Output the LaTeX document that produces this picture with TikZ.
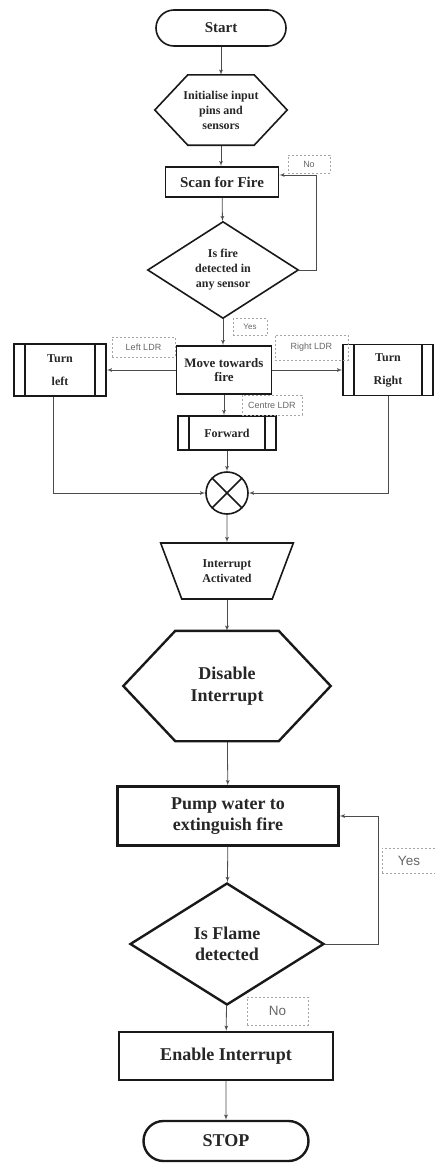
\documentclass[tikz,border=0pt]{standalone}
\usepackage{fontspec}
\setmainfont{Liberation Serif}
\newfontfamily\tagfont{Liberation Sans}
\usetikzlibrary{arrows}
\usetikzlibrary{shapes.geometric}
\usetikzlibrary{shapes.misc}
\newcommand{\hexframe}[3]{\draw[#3] (#1.west) -- ([xshift=#2]#1.north west) -- ([xshift=-#2]#1.north east) -- (#1.east) -- ([xshift=-#2]#1.south east) -- ([xshift=#2]#1.south west) -- cycle;}

\begin{document}
\begin{tikzpicture}[x=1pt, y=1pt,
    box/.style={draw=black!90, text=black!85, align=center, inner sep=0pt},
    thinbox/.style={box, line width=1.6pt},
    fatbox/.style={box, line width=2.4pt},
    midtext/.style={font=\bfseries\fontsize{12}{15}\selectfont},
    toptext/.style={font=\bfseries\fontsize{15}{18}\selectfont},
    bigtext/.style={font=\bfseries\fontsize{18}{21}\selectfont},
    terminal/.style={rounded rectangle},
    process/.style={rectangle},
    predef/.style={rectangle, path picture={
        \draw[line width=1.4pt] ([xshift=11pt]path picture bounding box.north west) -- ([xshift=11pt]path picture bounding box.south west);
        \draw[line width=1.4pt] ([xshift=-11pt]path picture bounding box.north east) -- ([xshift=-11pt]path picture bounding box.south east);}},
    decision/.style={diamond, shape aspect=1.55},
    hexagon/.style={box, draw=none},
    manop/.style={trapezium, shape border rotate=180, trapezium left angle=63.4, trapezium right angle=63.4, trapezium stretches=true},
    junction/.style={circle, draw=black!90, line width=1.6pt, minimum size=42pt, inner sep=0pt, path picture={
        \draw[line width=1.6pt] (path picture bounding box.north west) -- (path picture bounding box.south east);
        \draw[line width=1.6pt] (path picture bounding box.north east) -- (path picture bounding box.south west);}},
    tag/.style={draw=black!35, dash pattern=on 2pt off 2pt, text=black!60, inner sep=0pt, font=\tagfont\fontsize{9}{10}\selectfont},
    bigtag/.style={tag, font=\tagfont\fontsize{13.5}{15}\selectfont},
    arrow/.style={line width=0.8pt, draw=black!70, >=latex'},
    pre/.style={arrow, <-},
    post/.style={arrow, ->}
  ]
  \path[use as bounding box] (0,0) rectangle (435,-1165);

  \node[terminal, thinbox, toptext, minimum width=130pt, minimum height=36pt] (start) at (221,-28) {Start};
  \node[hexagon, midtext, minimum width=132pt, minimum height=70pt] (init) at (221,-110) {Initialise input\\pins and\\sensors}
    edge [pre] (start);
  \node[process, thinbox, toptext, minimum width=113pt, minimum height=30pt] (scan) at (222,-182) {Scan for Fire};
  \draw[post] (init.south) -- (init.south |- scan.north);
  \node[decision, thinbox, midtext, minimum width=151pt, minimum height=97pt] (fire) at (223,-270) {Is fire\\detected in\\any sensor}
    edge [pre] (scan);
  \node[process, thinbox, font=\bfseries\fontsize{13}{14}\selectfont, minimum width=95pt, minimum height=48pt] (move) at (224,-370) {Move towards\\fire};
  \draw[post] (fire.south) -- (fire.south |- move.north);
  \draw[post] (fire.east) -- +(17,0) |- ([yshift=7pt]scan.east);

  \node[predef, thinbox, midtext, minimum width=92pt, minimum height=52pt] (left) at (60,-370) {Turn\\[8pt]left}
    edge [pre] (move);
  \node[predef, thinbox, midtext, minimum width=90pt, minimum height=51pt] (right) at (388,-370) {Turn\\[8pt]Right}
    edge [pre] (move);
  \node[predef, thinbox, midtext, minimum width=98pt, minimum height=34pt] (fwd) at (227,-433) {Forward};
  \draw[post] (move.south) -- (move.south |- fwd.north);
  \node[junction] (sum) at (227,-493) {}
    edge [pre] (fwd);
  \draw[post] ([xshift=-7pt]left.south) |- (sum.west);
  \draw[post] (right.south) |- (sum.east);

  \node[manop, thinbox, midtext, minimum width=133pt, minimum height=56pt] (intr) at (227,-571) {Interrupt\\Activated}
    edge [pre] (sum);
  \node[hexagon, bigtext, font=\bfseries\fontsize{18}{22}\selectfont, minimum width=207pt, minimum height=110pt] (dis) at (227,-686) {Disable\\Interrupt}
    edge [pre] (intr);
  \node[process, fatbox, bigtext, minimum width=221pt, minimum height=59pt] (pump) at (228,-816) {Pump water to\\extinguish fire}
    edge [pre] (dis);
  \node[decision, fatbox, bigtext, minimum width=194pt, minimum height=122pt] (flame) at (227,-944) {Is Flame\\detected}
    edge [pre] (pump);
  \draw[post] (flame.east) -- +(53,0) |- (pump.east);
  \node[process, fatbox, bigtext, minimum width=214pt, minimum height=48pt] (enable) at (226,-1056) {Enable Interrupt}
    edge [pre] (flame);
  \node[terminal, fatbox, bigtext, minimum width=165pt, minimum height=40pt] (stop) at (226,-1141) {STOP}
    edge [pre] (enable);

  \hexframe{init}{33pt}{line width=1.6pt, draw=black!90}
  \hexframe{dis}{52pt}{line width=2.4pt, draw=black!90}

  \node[tag, minimum width=42pt, minimum height=18pt] (notop) at (309,-164) {No};
  \node[tag, font=\tagfont\fontsize{8}{9}\selectfont, minimum width=34pt, minimum height=17pt] (yestop) at (250,-327) {Yes};
  \node[tag, minimum width=63pt, minimum height=20pt] (ldrleft) at (143.5,-347) {Left LDR};
  \node[tag, minimum width=73pt, minimum height=25pt] (ldrright) at (311.5,-347.5) {Right LDR};
  \node[tag, minimum width=60pt, minimum height=20pt] (ldrcentre) at (272,-405) {Centre LDR};
  \node[bigtag, minimum width=54pt, minimum height=25pt] (yesbot) at (409,-860.5) {Yes};
  \node[bigtag, minimum width=61pt, minimum height=28pt] (nobot) at (277.5,-1011) {No};
\end{tikzpicture}
\end{document}
